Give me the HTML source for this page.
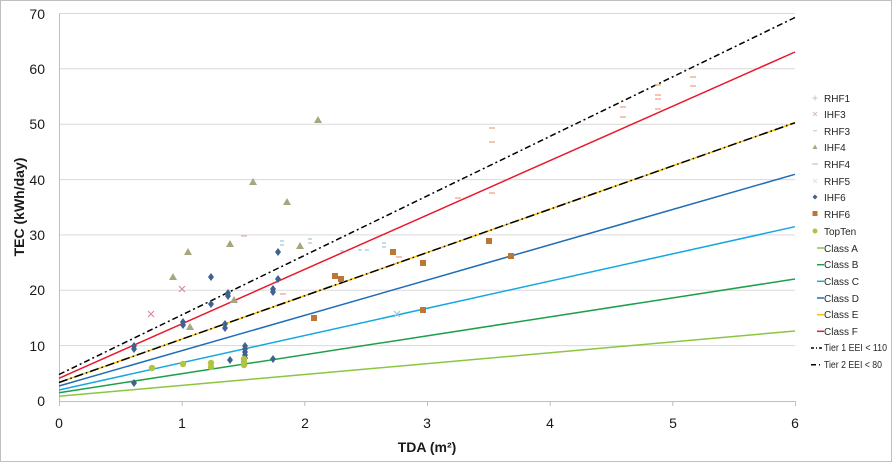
<!DOCTYPE html>
<html><head><meta charset="utf-8"><style>
html,body{margin:0;padding:0;background:#fff;}
svg{display:block;font-family:"Liberation Sans",Arial,sans-serif;}
</style></head><body>
<svg width="893" height="463" viewBox="0 0 893 463" xmlns="http://www.w3.org/2000/svg">
<rect x="0.5" y="0.5" width="891" height="461" fill="#fff" stroke="#bfbfbf" stroke-width="1"/>
<!-- gridlines -->
<g stroke="#d9d9d9" stroke-width="1">
<line x1="59" x2="795" y1="13.5" y2="13.5"/>
<line x1="59" x2="795" y1="68.8" y2="68.8"/>
<line x1="59" x2="795" y1="124.2" y2="124.2"/>
<line x1="59" x2="795" y1="179.6" y2="179.6"/>
<line x1="59" x2="795" y1="234.9" y2="234.9"/>
<line x1="59" x2="795" y1="290.3" y2="290.3"/>
<line x1="59" x2="795" y1="345.6" y2="345.6"/>
</g>
<!-- axes -->
<g stroke="#bfbfbf" stroke-width="1">
<line x1="59.5" x2="59.5" y1="13.5" y2="401.5"/>
<line x1="59" x2="795" y1="401.5" y2="401.5"/>
<line x1="59.5" x2="59.5" y1="401" y2="406"/>
<line x1="182.2" x2="182.2" y1="401" y2="406"/>
<line x1="304.8" x2="304.8" y1="401" y2="406"/>
<line x1="427.5" x2="427.5" y1="401" y2="406"/>
<line x1="550.2" x2="550.2" y1="401" y2="406"/>
<line x1="672.8" x2="672.8" y1="401" y2="406"/>
<line x1="795.5" x2="795.5" y1="401" y2="406"/>
</g>
<!-- y tick labels -->
<g font-size="14" fill="#1a1a1a" text-anchor="end">
<text x="45" y="19">70</text>
<text x="45" y="74">60</text>
<text x="45" y="129">50</text>
<text x="45" y="185">40</text>
<text x="45" y="240">30</text>
<text x="45" y="295">20</text>
<text x="45" y="351">10</text>
<text x="45" y="406">0</text>
</g>
<!-- x tick labels -->
<g font-size="14" fill="#1a1a1a" text-anchor="middle">
<text x="59" y="428">0</text>
<text x="182" y="428">1</text>
<text x="305" y="428">2</text>
<text x="427" y="428">3</text>
<text x="550" y="428">4</text>
<text x="673" y="428">5</text>
<text x="795" y="428">6</text>
</g>
<text x="427" y="452" font-size="14" font-weight="bold" text-anchor="middle" fill="#1a1a1a">TDA (m²)</text>
<text transform="translate(24,207) rotate(-90)" font-size="14" font-weight="bold" text-anchor="middle" fill="#1a1a1a">TEC (kWh/day)</text>

<!-- class lines -->
<g stroke-width="1.5" fill="none">
<line x1="59" y1="396.3" x2="795" y2="331" stroke="#8cc640"/>
<line x1="59" y1="392.7" x2="795" y2="279" stroke="#1ea04a"/>
<line x1="59" y1="390" x2="795" y2="226.7" stroke="#13a8e0"/>
<line x1="59" y1="386" x2="795" y2="174.3" stroke="#1f6db5"/>
<line x1="59" y1="382.5" x2="795" y2="122.7" stroke="#ffc000"/>
<line x1="59" y1="378.3" x2="795" y2="52" stroke="#e8192c"/>
<line x1="59" y1="374.5" x2="795" y2="17.5" stroke="#000" stroke-dasharray="6,3,2,3"/>
<line x1="59" y1="382.5" x2="795" y2="122.7" stroke="#000" stroke-dasharray="9,3,1.5,3"/>
</g>

<!-- IHF4 triangles -->
<g fill="#a8a67f">
<path d="M318,116 l4,7 h-8z"/>
<path d="M253,178 l4,7 h-8z"/>
<path d="M287,198 l4,7 h-8z"/>
<path d="M188,248 l4,7 h-8z"/>
<path d="M230,240 l4,7 h-8z"/>
<path d="M300,242 l4,7 h-8z"/>
<path d="M173,273 l4,7 h-8z"/>
<path d="M234,296 l4,7 h-8z"/>
<path d="M190,323 l4,7 h-8z"/>
</g>
<!-- RHF4 dashes -->
<g stroke="#f2a58a" stroke-width="1.3">
<line x1="280" x2="286" y1="294" y2="294"/>
<line x1="396" x2="402" y1="257" y2="257"/>
<line x1="455" x2="461" y1="198" y2="198"/>
<line x1="489" x2="495" y1="128" y2="128"/>
<line x1="489" x2="495" y1="142" y2="142"/>
<line x1="489" x2="495" y1="193" y2="193"/>
<line x1="620" x2="626" y1="107" y2="107"/>
<line x1="620" x2="626" y1="117" y2="117"/>
<line x1="655" x2="661" y1="85" y2="85"/>
<line x1="655" x2="661" y1="95" y2="95"/>
<line x1="655" x2="661" y1="99" y2="99"/>
<line x1="655" x2="661" y1="109" y2="109"/>
<line x1="690" x2="696" y1="77" y2="77"/>
<line x1="690" x2="696" y1="86" y2="86"/>
<line x1="241" x2="247" y1="236" y2="236" stroke="#d8b4b4"/>
</g>
<!-- RHF5/RHF3 light blue -->
<g stroke="#9cc6de" stroke-width="1.2">
<line x1="308" x2="312" y1="239" y2="239"/>
<line x1="308" x2="312" y1="243" y2="243"/>
<line x1="382" x2="386" y1="243" y2="243"/>
<line x1="382" x2="386" y1="247" y2="247"/>
<line x1="358" x2="362" y1="250" y2="250"/>
<line x1="365" x2="369" y1="250" y2="250"/>
<line x1="340" x2="344" y1="251" y2="251"/>
<line x1="280" x2="284" y1="241" y2="241"/>
<line x1="280" x2="284" y1="245" y2="245"/>
<path d="M394,311 l6,6 M400,311 l-6,6"/>
</g>
<!-- IHF3 x -->
<g stroke="#d98aa2" stroke-width="1.2">
<path d="M179,286 l6,6 M185,286 l-6,6"/>
<path d="M148,311 l6,6 M154,311 l-6,6"/>
</g>
<!-- IHF6 diamonds -->
<g fill="#3f628f">
<path d="M278,248 l3,4 l-3,4 l-3,-4z"/>
<path d="M211,273 l3,4 l-3,4 l-3,-4z"/>
<path d="M278,275 l3,4 l-3,4 l-3,-4z"/>
<path d="M228,289 l3,4 l-3,4 l-3,-4z"/>
<path d="M228,292 l3,4 l-3,4 l-3,-4z"/>
<path d="M211,300 l3,4 l-3,4 l-3,-4z"/>
<path d="M183,318 l3,4 l-3,4 l-3,-4z"/>
<path d="M183,321 l3,4 l-3,4 l-3,-4z"/>
<path d="M225,320 l3,4 l-3,4 l-3,-4z"/>
<path d="M225,324 l3,4 l-3,4 l-3,-4z"/>
<path d="M134,342 l3,4 l-3,4 l-3,-4z"/>
<path d="M134,345 l3,4 l-3,4 l-3,-4z"/>
<path d="M245,342 l3,4 l-3,4 l-3,-4z"/>
<path d="M245,345 l3,4 l-3,4 l-3,-4z"/>
<path d="M245,348 l3,4 l-3,4 l-3,-4z"/>
<path d="M245,351 l3,4 l-3,4 l-3,-4z"/>
<path d="M245,354 l3,4 l-3,4 l-3,-4z"/>
<path d="M230,356 l3,4 l-3,4 l-3,-4z"/>
<path d="M273,285 l3,4 l-3,4 l-3,-4z"/>
<path d="M273,288 l3,4 l-3,4 l-3,-4z"/>
<path d="M273,355 l3,4 l-3,4 l-3,-4z"/>
<path d="M134,379 l3,4 l-3,4 l-3,-4z"/>
</g>
<!-- TopTen circles -->
<g fill="#b2c241">
<circle cx="152" cy="368" r="3.2"/>
<circle cx="183" cy="364" r="3.2"/>
<circle cx="211" cy="363" r="3.2"/>
<circle cx="211" cy="367" r="3.2"/>
<circle cx="244" cy="359" r="3.2"/>
<circle cx="244" cy="362" r="3.2"/>
<circle cx="244" cy="365" r="3.2"/>
</g>
<!-- RHF6 squares -->
<g fill="#bd7638">
<rect x="390" y="249" width="6" height="6"/>
<rect x="332" y="273" width="6" height="6"/>
<rect x="338" y="276" width="6" height="6"/>
<rect x="420" y="260" width="6" height="6"/>
<rect x="486" y="238" width="6" height="6"/>
<rect x="508" y="253" width="6" height="6"/>
<rect x="420" y="307" width="6" height="6"/>
<rect x="311" y="315" width="6" height="6"/>
</g>

<!-- legend -->
<g font-size="10" fill="#262626">
<text x="824" y="102">RHF1</text>
<text x="824" y="118">IHF3</text>
<text x="824" y="135">RHF3</text>
<text x="824" y="151">IHF4</text>
<text x="824" y="168">RHF4</text>
<text x="824" y="185">RHF5</text>
<text x="824" y="201">IHF6</text>
<text x="824" y="218">RHF6</text>
<text x="824" y="235">TopTen</text>
<text x="824" y="252">Class A</text>
<text x="824" y="268">Class  B</text>
<text x="824" y="285">Class C</text>
<text x="824" y="302">Class D</text>
<text x="824" y="318">Class E</text>
<text x="824" y="335">Class  F</text>
<text x="824" y="351" textLength="63" lengthAdjust="spacingAndGlyphs">Tier 1 EEI &lt; 110</text>
<text x="824" y="368" textLength="58" lengthAdjust="spacingAndGlyphs">Tier 2 EEI &lt; 80</text>
</g>
<g>
<path d="M815,95.5 v5 M812.5,98 h5" stroke="#c8c8c8" stroke-width="1"/>
<path d="M813,112 l4,4 M817,112 l-4,4" stroke="#e0b8c4" stroke-width="1"/>
<line x1="813" x2="817" y1="130.7" y2="130.7" stroke="#c8c8c8"/>
<path d="M815,144.5 l2.5,4.5 h-5z" fill="#a8a67f"/>
<line x1="812" x2="818" y1="164" y2="164" stroke="#d8a8a0"/>
<path d="M813,179 l4,4 M817,179 l-4,4" stroke="#dde4ea" stroke-width="1"/>
<path d="M815,194.5 l2.5,2.5 l-2.5,2.5 l-2.5,-2.5z" fill="#3f628f"/>
<rect x="812.5" y="211" width="5" height="5" fill="#bd7638"/>
<circle cx="815" cy="231" r="2.5" fill="#b2c241"/>
</g>
<g stroke-width="1.5">
<line x1="817" x2="824" y1="248" y2="248" stroke="#8cc640"/>
<line x1="817" x2="824" y1="264.7" y2="264.7" stroke="#1ea04a"/>
<line x1="817" x2="824" y1="281.3" y2="281.3" stroke="#13a8e0"/>
<line x1="817" x2="824" y1="298" y2="298" stroke="#1f6db5"/>
<line x1="817" x2="824" y1="314.7" y2="314.7" stroke="#ffc000"/>
<line x1="817" x2="824" y1="331.3" y2="331.3" stroke="#e8192c"/>
<line x1="811" x2="824" y1="348" y2="348" stroke="#000" stroke-dasharray="3,2,1,2"/>
<line x1="811" x2="824" y1="364.7" y2="364.7" stroke="#000" stroke-dasharray="5,3,1,4"/>
</g>
</svg>
</body></html>
